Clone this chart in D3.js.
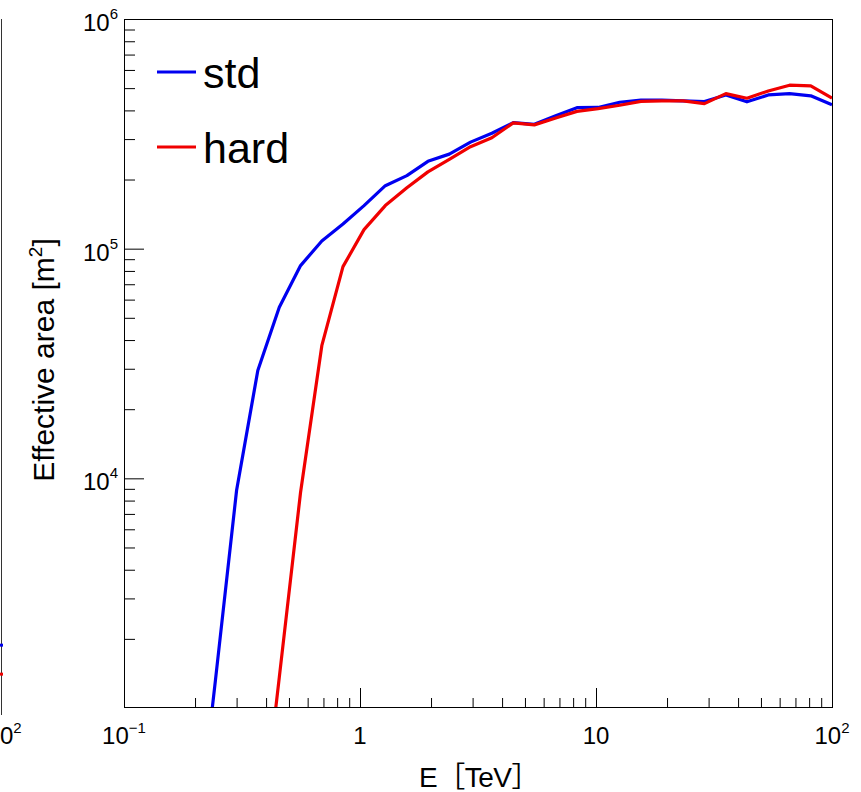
<!DOCTYPE html>
<html>
<head>
<meta charset="utf-8">
<script src="https://cdn.jsdelivr.net/npm/d3@7"></script>
<style>
  body { margin: 0; background: #fff; }
  text { font-family: "Liberation Sans", Arial, Helvetica, "Noto Sans CJK JP", sans-serif; fill: #000; }
</style>
</head>
<body>
<svg id="chart" width="861" height="792"></svg>
<script>
// energy bins [TeV], shared by both curves
const energy = [0.198, 0.244, 0.300, 0.369, 0.455, 0.560, 0.689, 0.847, 1.04, 1.28,
  1.58, 1.94, 2.39, 2.94, 3.62, 4.46, 5.48, 6.75, 8.30, 10.2,
  12.6, 15.5, 19.0, 23.4, 28.8, 35.5, 43.6, 53.7, 66.1, 81.3, 100];
// effective area [m^2]
const stdArea = [200, 1320, 8870, 29500, 55600, 84400, 108000, 128000, 154000, 188000,
  208000, 240000, 258000, 291000, 318000, 354000, 348000, 379000, 411000, 412000,
  434000, 443000, 443000, 440000, 437000, 467000, 436000, 467000, 473000, 463000, 423000];
const hardArea = [null, null, null, 210, 1360, 8700, 37800, 83500, 121000, 154000,
  184000, 216000, 245000, 278000, 304000, 353000, 346000, 371000, 396000, 407000,
  421000, 438000, 440000, 440000, 428000, 473000, 452000, 486000, 515000, 511000, 452000];
const seriesNames = ['std', 'hard'];

const xTickValues = [0.1, 1, 10, 100];
const xTickLabels = [['10', '−1'], ['1', ''], ['10', ''], ['10', '2']];
const yTickValues = [1e4, 1e5, 1e6];
const yTickLabels = [['10', '4'], ['10', '5'], ['10', '6']];

// right edge of the neighbouring panel, which is cut off at the left border
const neighborEnds = [2000, 1500];

const colors = ['#0000f0', '#f00000'];

const svg = d3.select('#chart');

const x = d3.scaleLog().domain([0.1, 100]).range([124, 832]);
const y = d3.scaleLog().domain([1e3, 1e6]).range([708, 19]);

const isDecade = d => Math.abs(Math.log10(d) - Math.round(Math.log10(d))) < 1e-6;

// --- neighbouring panel remnant ---
const yn = d3.scaleLog().domain([1e3, 1e6]).range([715, 19]);
svg.append('line')
  .attr('x1', 1.5).attr('x2', 1.5).attr('y1', 19).attr('y2', 715)
  .attr('stroke', '#333').attr('stroke-width', 1);
svg.selectAll('line.nb').data(neighborEnds).join('line')
  .attr('class', 'nb')
  .attr('x1', 0).attr('x2', 3)
  .attr('y1', d => yn(d)).attr('y2', d => yn(d))
  .attr('stroke', (d, i) => colors[i]).attr('stroke-width', 3);
// only the last digit of its "10^2" label is in view
const nbLabel = svg.append('text')
  .attr('x', 0).attr('y', 744)
  .style('font-size', '24px');
nbLabel.append('tspan').text('0');
nbLabel.append('tspan').attr('dy', -11).style('font-size', '15px').text('2');

// --- curves ---
svg.append('clipPath').attr('id', 'frame-clip')
  .append('rect')
  .attr('x', x(0.1)).attr('y', y(1e6))
  .attr('width', x(100) - x(0.1)).attr('height', y(1e3) - y(1e6));

const line = d3.line()
  .defined(d => d[1] != null)
  .x(d => x(d[0]))
  .y(d => y(d[1]));

const series = [stdArea, hardArea].map(arr => energy.map((e, i) => [e, arr[i]]));

svg.append('g')
  .attr('clip-path', 'url(#frame-clip)')
  .selectAll('path')
  .data(series)
  .join('path')
  .attr('d', line)
  .attr('fill', 'none')
  .attr('stroke', (d, i) => colors[i])
  .attr('stroke-width', 3.2)
  .attr('stroke-linejoin', 'round');

// --- axes ---
const xMinor = x.ticks().filter(d => !isDecade(d));
const yMinor = y.ticks().filter(d => !isDecade(d));

const axisX = svg.append('g').attr('transform', `translate(0,${y(1e3)})`);
axisX.append('g').call(d3.axisBottom(x).tickValues(xMinor).tickSize(-10).tickFormat(''));
axisX.append('g').call(d3.axisBottom(x).tickValues(xTickValues).tickSize(-20).tickFormat(''));

const axisY = svg.append('g').attr('transform', `translate(${x(0.1)},0)`);
axisY.append('g').call(d3.axisLeft(y).tickValues(yMinor).tickSize(-11).tickFormat(''));
axisY.append('g').call(d3.axisLeft(y).tickValues(yTickValues).tickSize(-20).tickFormat(''));

svg.selectAll('.domain').remove();
svg.selectAll('.tick line').attr('stroke', '#000');

// frame
svg.append('rect')
  .attr('x', x(0.1) + 0.5).attr('y', y(1e6) + 0.5)
  .attr('width', x(100) - x(0.1)).attr('height', y(1e3) - y(1e6) - 1)
  .attr('fill', 'none').attr('stroke', '#000').attr('stroke-width', 1);

// tick labels
svg.selectAll('text.xlab').data(xTickValues).join('text')
  .attr('class', 'xlab')
  .attr('x', d => x(d)).attr('y', 744)
  .attr('text-anchor', 'middle')
  .style('font-size', '24px')
  .each(function (d, i) {
    const t = d3.select(this);
    t.append('tspan').text(xTickLabels[i][0]);
    if (xTickLabels[i][1]) t.append('tspan').attr('dy', -11).style('font-size', '15px').text(xTickLabels[i][1]);
  });

svg.selectAll('text.ylab').data(yTickValues).join('text')
  .attr('class', 'ylab')
  .attr('x', 118).attr('y', d => y(d) + 12)
  .attr('text-anchor', 'end')
  .style('font-size', '24px')
  .each(function (d, i) {
    const t = d3.select(this);
    t.append('tspan').text(yTickLabels[i][0]);
    t.append('tspan').attr('dy', -12).style('font-size', '15px').text(yTickLabels[i][1]);
  });

// axis titles
svg.append('text')
  .attr('x', 479).attr('y', 787)
  .attr('text-anchor', 'middle')
  .style('font-size', '28px')
  .style('letter-spacing', '-0.5px')
  .text('E［TeV］');

const yTitle = svg.append('text')
  .attr('transform', 'translate(54,360) rotate(-90)')
  .attr('text-anchor', 'middle')
  .style('font-size', '30px');
yTitle.append('tspan').text('Effective area [m');
yTitle.append('tspan').attr('dy', -12).style('font-size', '19px').text('2');
yTitle.append('tspan').attr('dy', 12).text(']');

// legend
const legend = svg.append('g').selectAll('g').data(seriesNames).join('g')
  .attr('transform', (d, i) => `translate(157,${72 + i * 75})`);
legend.append('line')
  .attr('x1', 0).attr('x2', 39)
  .attr('stroke', (d, i) => colors[i]).attr('stroke-width', 3.2);
legend.append('text')
  .attr('x', 46).attr('y', 16)
  .style('font-size', '43px')
  .text(d => d);
</script>
</body>
</html>
